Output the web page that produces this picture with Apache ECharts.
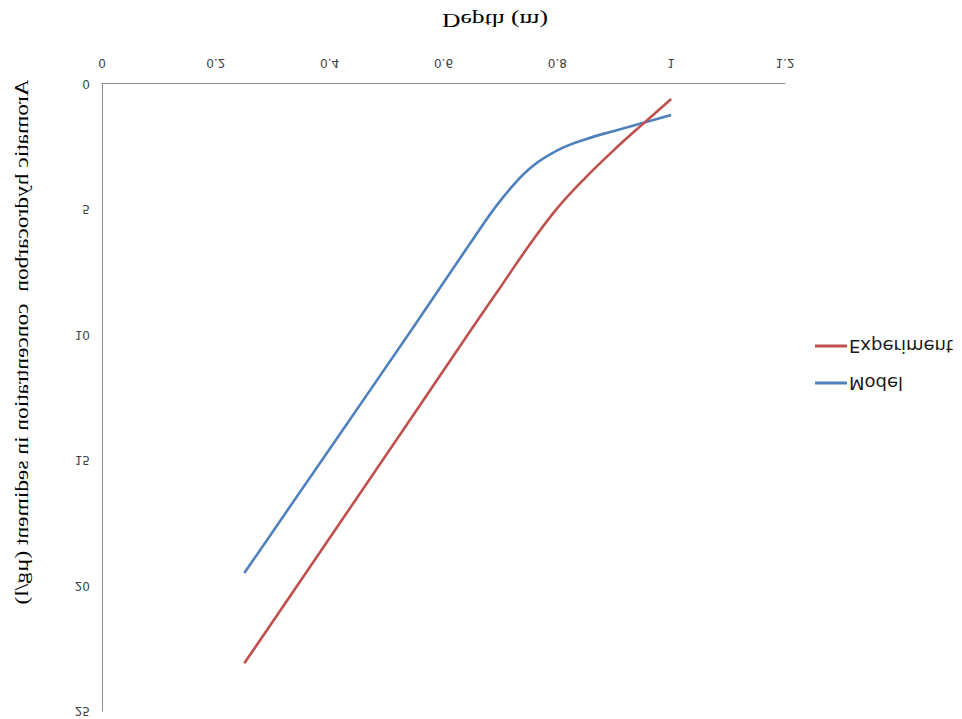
<!DOCTYPE html>
<html>
<head>
<meta charset="utf-8">
<script src="https://cdn.jsdelivr.net/npm/echarts@6/dist/echarts.min.js"></script>
<style>
  html, body { margin: 0; padding: 0; background: #ffffff; }
  /* the whole figure is shown mirrored top-to-bottom */
  #chart { width: 962px; height: 719px; transform: scaleY(-1); transform-origin: 50% 50%; }
</style>
</head>
<body>
<div id="chart"></div>
<script>
// Depth (m) for each profile
const depthExperiment = [0.25, 0.40, 0.55, 0.65, 0.70, 0.75, 0.80, 0.85, 0.90, 0.95, 1.00];
const depthModel = [0.25, 0.40, 0.55, 0.65, 0.70, 0.75, 0.80, 0.85, 0.90, 1.00];
// Aromatic hydrocarbon concentration in sediment (µg/l)
const experiment = [23.1, 18.1, 13.1, 9.75, 8.1, 6.45, 4.95, 3.72, 2.62, 1.6, 0.6];
const model = [19.5, 14.55, 9.6, 6.25, 4.65, 3.4, 2.65, 2.2, 1.87, 1.24];
// axis ticks
const xTicks = [0, 0.2, 0.4, 0.6, 0.8, 1, 1.2];
const yTicks = [0, 5, 10, 15, 20, 25];

const seriesNames = ['Model', 'Experiment'];
const seriesColors = { Model: '#4F81BD', Experiment: '#C0504D' };
const seriesDepth = { Model: depthModel, Experiment: depthExperiment };
const seriesValues = { Model: model, Experiment: experiment };

const chart = echarts.init(document.getElementById('chart'), null, { renderer: 'svg' });

const axisLine = { show: true, lineStyle: { color: '#8c8c8c', width: 1 } };
const labelStyle = { color: '#404040', fontFamily: 'DejaVu Sans', fontSize: 12 };

chart.setOption({
  backgroundColor: '#ffffff',
  animation: false,
  grid: { left: 102, right: 177, top: 8, bottom: 84, containLabel: false },
  xAxis: {
    type: 'value',
    min: xTicks[0],
    max: xTicks[xTicks.length - 1],
    interval: xTicks[1] - xTicks[0],
    axisLine: axisLine,
    axisTick: { show: false },
    splitLine: { show: false },
    axisLabel: Object.assign({ margin: 15 }, labelStyle)
  },
  yAxis: {
    type: 'value',
    min: yTicks[0],
    max: yTicks[yTicks.length - 1],
    interval: yTicks[1] - yTicks[0],
    axisLine: axisLine,
    axisTick: { show: false },
    splitLine: { show: false },
    axisLabel: Object.assign({ margin: 12 }, labelStyle)
  },
  legend: {
    orient: 'vertical',
    left: 810,
    top: 322,
    itemWidth: 32,
    itemHeight: 3,
    itemGap: 19,
    icon: 'rect',
    data: seriesNames,
    textStyle: { color: '#1a1a1a', fontFamily: 'DejaVu Sans', fontSize: 18, padding: [0, 0, 0, -3] }
  },
  graphic: [
    {
      type: 'text',
      x: 495, y: 699,
      scaleX: 1.35,
      style: {
        text: 'Depth (m)',
        font: '19px "Liberation Serif"',
        fill: '#000000',
        align: 'center',
        verticalAlign: 'middle'
      }
    },
    {
      type: 'text',
      x: 22, y: 377,
      rotation: Math.PI / 2,
      scaleX: 1.3,
      style: {
        text: 'Aromatic hydrocarbon  concentration in sediment (µg/l)',
        font: '18px "Liberation Serif"',
        fill: '#000000',
        align: 'center',
        verticalAlign: 'middle'
      }
    }
  ],
  series: seriesNames.map(function (name) {
    return {
      name: name,
      type: 'line',
      smooth: 0.4,
      showSymbol: false,
      symbol: 'none',
      color: seriesColors[name],
      lineStyle: { color: seriesColors[name], width: 2.6 },
      data: seriesDepth[name].map(function (d, i) { return [d, seriesValues[name][i]]; })
    };
  })
});
</script>
</body>
</html>
